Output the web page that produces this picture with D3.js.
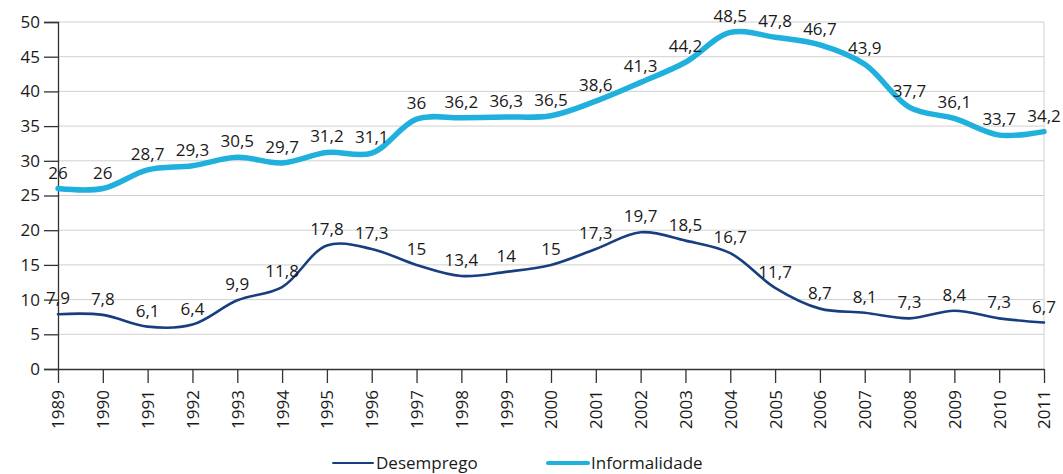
<!DOCTYPE html>
<html>
<head>
<meta charset="utf-8">
<script src="https://cdn.jsdelivr.net/npm/d3@7"></script>
<style>
  body { margin: 0; background: #fff; }
  svg { display: block; font-family: "Open Sans", "Noto Sans", sans-serif; }
</style>
</head>
<body>
<svg id="chart"></svg>
<script>
// Configuration
const width = 1063;
const height = 474;
const margin = {top: 22, right: 19, bottom: 105, left: 58};
const fontSize = 17;

const years = d3.range(1989, 2012);
const desemprego = [7.9, 7.8, 6.1, 6.4, 9.9, 11.8, 17.8, 17.3, 15, 13.4, 14, 15, 17.3, 19.7, 18.5, 16.7, 11.7, 8.7, 8.1, 7.3, 8.4, 7.3, 6.7];
const informalidade = [26, 26, 28.7, 29.3, 30.5, 29.7, 31.2, 31.1, 36, 36.2, 36.3, 36.5, 38.6, 41.3, 44.2, 48.5, 47.8, 46.7, 43.9, 37.7, 36.1, 33.7, 34.2];
const yTicks = [0, 5, 10, 15, 20, 25, 30, 35, 40, 45, 50];

const series = [
    {name: 'Desemprego', values: desemprego, color: '#173f80', width: 2.6},
    {name: 'Informalidade', values: informalidade, color: '#1fb0dd', width: 5.5}
];

const fmt = v => String(v).replace('.', ',');

const svg = d3.select("#chart")
    .attr("width", width)
    .attr("height", height);

const innerW = width - margin.left - margin.right;
const innerH = height - margin.top - margin.bottom;

const x = d3.scaleLinear()
    .domain([1989, 2011])
    .range([margin.left, margin.left + innerW]);

const y = d3.scaleLinear()
    .domain([0, 50])
    .range([margin.top + innerH, margin.top]);

// Gridlines
svg.append("g")
    .selectAll("line")
    .data(yTicks.filter(d => d > 0))
    .join("line")
    .attr("x1", margin.left)
    .attr("x2", margin.left + innerW)
    .attr("y1", d => y(d))
    .attr("y2", d => y(d))
    .attr("stroke", "#d0d0d0")
    .attr("stroke-width", 1);

// right border
svg.append("line")
    .attr("x1", margin.left + innerW).attr("x2", margin.left + innerW)
    .attr("y1", y(50)).attr("y2", y(0))
    .attr("stroke", "#d0d0d0");

// Y axis
const yAxis = svg.append("g")
    .attr("transform", `translate(${margin.left},0)`)
    .call(d3.axisLeft(y).tickValues(yTicks).tickSize(14).tickPadding(4));
yAxis.select(".domain").attr("stroke", "#333").attr("stroke-width", 1.3);
yAxis.selectAll(".tick line").attr("stroke", "#333").attr("stroke-width", 1.3);
yAxis.selectAll("text").attr("font-size", fontSize).attr("fill", "#1a1a1a")
    .attr("font-family", "'Open Sans', sans-serif");

// X axis
const xAxis = svg.append("g")
    .attr("transform", `translate(0,${y(0)})`)
    .call(d3.axisBottom(x).tickValues(years).tickFormat(d3.format("d")).tickSize(14).tickSizeOuter(0));
xAxis.select(".domain").attr("stroke", "#333").attr("stroke-width", 1.3);
xAxis.selectAll(".tick line").attr("stroke", "#333").attr("stroke-width", 1.3);
xAxis.selectAll("text")
    .attr("font-size", fontSize)
    .attr("fill", "#1a1a1a")
    .attr("font-family", "'Open Sans', sans-serif")
    .attr("transform", "rotate(-90)")
    .attr("text-anchor", "end")
    .attr("x", -21)
    .attr("y", 0)
    .attr("dy", "0.35em");

// Lines
const line = d3.line()
    .x((d, i) => x(years[i]))
    .y(d => y(d))
    .curve(d3.curveCatmullRom.alpha(0.5));

series.forEach(s => {
    svg.append("path")
        .datum(s.values)
        .attr("fill", "none")
        .attr("stroke", s.color)
        .attr("stroke-width", s.width)
        .attr("stroke-linecap", "round")
        .attr("d", line);
});

// Data labels
series.forEach(s => {
    svg.append("g")
        .selectAll("text")
        .data(s.values)
        .join("text")
        .attr("x", (d, i) => x(years[i]))
        .attr("y", d => y(d) - 10)
        .attr("text-anchor", "middle")
        .attr("font-size", fontSize)
        .attr("fill", "#1a1a1a")
        .text(d => fmt(d));
});

// Legend
const legend = svg.append("g").attr("transform", `translate(0,${height - 11})`);
const legendPos = [333, 548];
series.forEach((s, i) => {
    const lg = legend.append("g").attr("transform", `translate(${legendPos[i]},0)`);
    lg.append("line")
        .attr("x1", 0).attr("x2", 40)
        .attr("y1", 0).attr("y2", 0)
        .attr("stroke", s.color)
        .attr("stroke-width", s.width * 0.75)
        .attr("stroke-linecap", "round");
    lg.append("text")
        .attr("x", 43)
        .attr("y", 0)
        .attr("dy", "0.35em")
        .attr("font-size", fontSize)
        .attr("fill", "#1a1a1a")
        .text(s.name);
});
</script>
</body>
</html>
